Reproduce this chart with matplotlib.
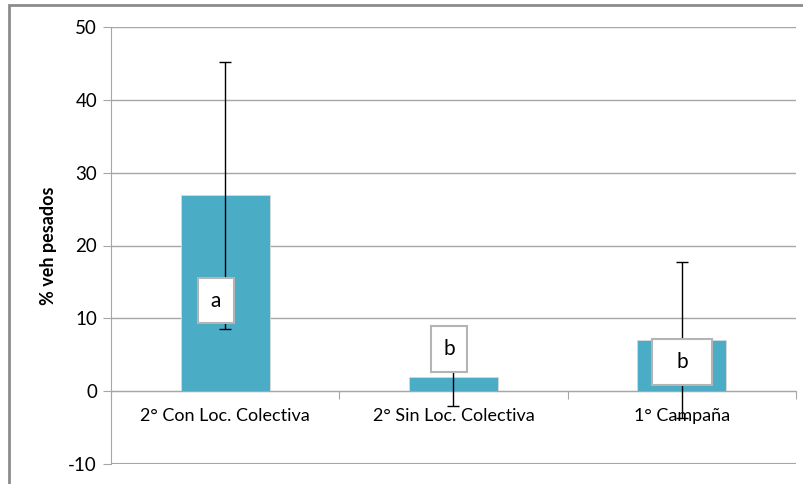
import matplotlib.pyplot as plt
from matplotlib.patches import Rectangle
import numpy as np

categories = ['2° Con Loc. Colectiva', '2° Sin Loc. Colectiva', '1° Campaña']
values = [26.9, 1.9, 7.0]
errors = [18.3, 3.9, 10.7]
letters = ['a', 'b', 'b']
letter_y = [12.4, 5.8, 4.0]

plt.rcParams['font.family'] = ['Lato', 'DejaVu Sans']
plt.rcParams['axes.unicode_minus'] = False

fig = plt.figure(figsize=(8.04, 4.84), dpi=100)
ax = fig.add_axes([111/804, 20/484, 685/804, 437/484])

# outer chart frame
fig.add_artist(Rectangle((9/804, -0.1), 1.2, 1.1 - 5/484, transform=fig.transFigure,
                         fill=False, edgecolor='#8c8c8c', linewidth=2))

x = np.arange(len(categories))
ax.bar(x, values, width=0.39, color='#4BACC6', zorder=2,
       edgecolor='#d9d9d9', linewidth=0.6)
ax.errorbar(x, values, yerr=errors, fmt='none', ecolor='black',
            elinewidth=1, capsize=4, capthick=1, zorder=3)

# letter boxes
box_w = [0.16, 0.16, 0.26]
box_dx = [-0.04, -0.02, 0.0]
box_h = 6.2
for i, (lt, ly) in enumerate(zip(letters, letter_y)):
    cx = x[i] + box_dx[i]
    ax.add_patch(Rectangle((cx - box_w[i]/2, ly - box_h/2), box_w[i], box_h,
                           facecolor='white', edgecolor='#b4b4b4', linewidth=1.5, zorder=4))
    ax.text(cx, ly, lt, ha='center', va='center', fontsize=15, zorder=5)

ax.set_xlim(-0.5, 2.5)
ax.set_ylim(-10, 50)
ax.set_yticks(np.arange(-10, 51, 10))
ax.yaxis.grid(True, color='#a6a6a6', linewidth=1)
ax.axhline(-10, color='#a6a6a6', linewidth=1.5, zorder=1)
ax.set_axisbelow(True)

ax.spines['top'].set_visible(False)
ax.spines['right'].set_visible(False)
ax.spines['left'].set_color('#a6a6a6')
ax.spines['bottom'].set_color('#a6a6a6')
ax.spines['bottom'].set_position(('data', 0))

ax.set_xticks([-0.5, 0.5, 1.5, 2.5])
ax.set_xticklabels([])
ax.set_xticks(x, minor=True)
ax.set_xticklabels(categories, minor=True, fontsize=13)
ax.tick_params(axis='x', which='major', length=6, color='#a6a6a6')
ax.tick_params(axis='x', which='minor', length=0, pad=12)
ax.tick_params(axis='y', length=6, color='#a6a6a6', labelsize=13.5, pad=4)

ax.set_ylabel('% veh pesados', fontsize=13, fontweight='bold', labelpad=8)

fig.savefig('out.png', dpi=100)
